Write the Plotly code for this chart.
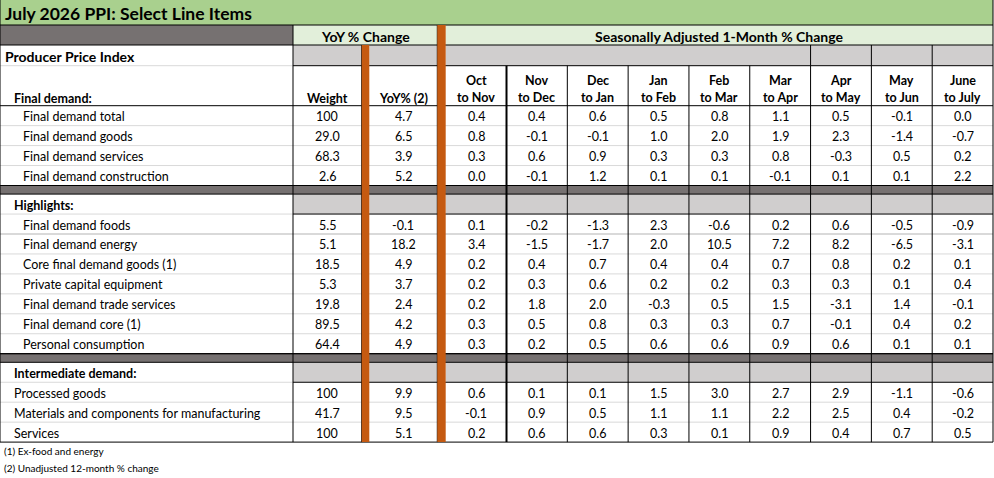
import plotly.graph_objects as go

TITLE = "July 2026 PPI: Select Line Items"
FOOTNOTES = ["(1) Ex-food and energy", "(2) Unadjusted 12-month % change"]

month_from = ["Oct", "Nov", "Dec", "Jan", "Feb", "Mar", "Apr", "May", "June"]
month_to = ["to Nov", "to Dec", "to Jan", "to Feb", "to Mar", "to Apr", "to May", "to Jun", "to July"]

final_labels = [
    "Final demand total",
    "Final demand goods",
    "Final demand services",
    "Final demand construction",
]
final_weight = [100, 29.0, 68.3, 2.6]
final_yoy = [4.7, 6.5, 3.9, 5.2]
final_monthly = [
    [0.4, 0.4, 0.6, 0.5, 0.8, 1.1, 0.5, -0.1, 0.0],
    [0.8, -0.1, -0.1, 1.0, 2.0, 1.9, 2.3, -1.4, -0.7],
    [0.3, 0.6, 0.9, 0.3, 0.3, 0.8, -0.3, 0.5, 0.2],
    [0.0, -0.1, 1.2, 0.1, 0.1, -0.1, 0.1, 0.1, 2.2],
]

highlight_labels = [
    "Final demand foods",
    "Final demand energy",
    "Core final demand goods (1)",
    "Private capital equipment",
    "Final demand trade services",
    "Final demand core (1)",
    "Personal consumption",
]
highlight_weight = [5.5, 5.1, 18.5, 5.3, 19.8, 89.5, 64.4]
highlight_yoy = [-0.1, 18.2, 4.9, 3.7, 2.4, 4.2, 4.9]
highlight_monthly = [
    [0.1, -0.2, -1.3, 2.3, -0.6, 0.2, 0.6, -0.5, -0.9],
    [3.4, -1.5, -1.7, 2.0, 10.5, 7.2, 8.2, -6.5, -3.1],
    [0.2, 0.4, 0.7, 0.4, 0.4, 0.7, 0.8, 0.2, 0.1],
    [0.2, 0.3, 0.6, 0.2, 0.2, 0.3, 0.3, 0.1, 0.4],
    [0.2, 1.8, 2.0, -0.3, 0.5, 1.5, -3.1, 1.4, -0.1],
    [0.3, 0.5, 0.8, 0.3, 0.3, 0.7, -0.1, 0.4, 0.2],
    [0.3, 0.2, 0.5, 0.6, 0.6, 0.9, 0.6, 0.1, 0.1],
]

intermediate_labels = [
    "Processed goods",
    "Materials and components for manufacturing",
    "Services",
]
intermediate_weight = [100, 41.7, 100]
intermediate_yoy = [9.9, 9.5, 5.1]
intermediate_monthly = [
    [0.6, 0.1, 0.1, 1.5, 3.0, 2.7, 2.9, -1.1, -0.6],
    [-0.1, 0.9, 0.5, 1.1, 1.1, 2.2, 2.5, 0.4, -0.2],
    [0.2, 0.6, 0.6, 0.3, 0.1, 0.9, 0.4, 0.7, 0.5],
]

sections = [
    ("Final demand:", final_labels, final_weight, final_yoy, final_monthly, 21),
    ("Highlights:", highlight_labels, highlight_weight, highlight_yoy, highlight_monthly, 21),
    ("Intermediate demand:", intermediate_labels, intermediate_weight, intermediate_yoy, intermediate_monthly, 12),
]

# colours (Excel-ish palette)
GREEN = "#A9D08E"
LIGHT_GREEN = "#E2EFDA"
DARK_GREY = "#767171"
LIGHT_GREY = "#D0CECE"
ROW_LINE = "#D9D9D9"
ORANGE = "#C55A11"
FONT = "Lato"
BODY_SIZE = 12.5
TEXT_DY = 1  # nudge text down a touch to sit like Excel's

# column geometry
RIGHT = 993
LABEL_X = (0, 293)
WEIGHT_X = (293, 361.7)
ORANGE1_X = (361.7, 369.3)
YOY_X = (369.3, 437.3)
ORANGE2_X = (437.3, 445.7)
MONTH_X0 = 445.7
MONTH_W = (RIGHT - MONTH_X0) / len(month_from)
month_edges = [MONTH_X0 + i * MONTH_W for i in range(len(month_from) + 1)]

# row geometry
TITLE_Y = (0, 25)
H1_Y = (25, 45)
H2_Y = (45, 65.7)
H3_Y = (65.7, 105.7)
ROW_H = 19.95
SEP_H = 8.6

fig = go.Figure()
shapes = []
annotations = []


def rect(x0, x1, y0, y1, fill, line_color=None, width=1):
    shapes.append(
        dict(
            type="rect", xref="x", yref="y", x0=x0, x1=x1, y0=y0, y1=y1,
            fillcolor=fill, layer="below",
            line=dict(color=line_color or fill, width=width if line_color else 0),
        )
    )


def line(x0, x1, y0, y1, color="black", width=1):
    shapes.append(
        dict(type="line", xref="x", yref="y", x0=x0, x1=x1, y0=y0, y1=y1,
             line=dict(color=color, width=width), layer="above")
    )


def text(x, y, s, size=BODY_SIZE, bold=False, anchor="center", color="black"):
    annotations.append(
        dict(
            x=x, y=y + TEXT_DY, xref="x", yref="y", text=f"<b>{s}</b>" if bold else s,
            showarrow=False, xanchor=anchor, yanchor="middle",
            font=dict(family=FONT, size=size, color=color),
        )
    )


def fmt(v):
    return "100" if v == 100 else f"{v:.1f}"


def mid(a, b):
    return (a + b) / 2


number_cols = [WEIGHT_X, YOY_X] + [(month_edges[i], month_edges[i + 1]) for i in range(len(month_from))]

# title bar
rect(0, RIGHT, *TITLE_Y, GREEN)
text(3, mid(*TITLE_Y), TITLE, size=17.5, bold=True, anchor="left")

# header row 1
rect(*LABEL_X, *H1_Y, DARK_GREY)
rect(WEIGHT_X[0], YOY_X[1], *H1_Y, LIGHT_GREEN)
rect(MONTH_X0, RIGHT, *H1_Y, LIGHT_GREEN)
text(mid(WEIGHT_X[0], YOY_X[1]), mid(*H1_Y), "YoY % Change", size=14, bold=True)
text(mid(MONTH_X0, RIGHT), mid(*H1_Y), "Seasonally Adjusted 1-Month % Change", size=14, bold=True)

# header row 2
rect(*WEIGHT_X, *H2_Y, LIGHT_GREY)
rect(*YOY_X, *H2_Y, LIGHT_GREY)
rect(MONTH_X0, RIGHT, *H2_Y, LIGHT_GREY)
text(3, mid(*H2_Y), "Producer Price Index", size=14, bold=True, anchor="left")
for e in month_edges[6:9]:
    line(e, e, *H2_Y)

# header row 3
text(12, 97, sections[0][0], bold=True, anchor="left")
text(mid(*WEIGHT_X), 97, "Weight", bold=True)
text(mid(*YOY_X), 97, "YoY% (2)", bold=True)
for i in range(len(month_from)):
    cx = mid(month_edges[i], month_edges[i + 1])
    text(cx, 79, month_from[i], bold=True)
    text(cx, 96, month_to[i], bold=True)

# body
y = H3_Y[1]
for s_idx, (head, labels, weights, yoys, monthly, indent) in enumerate(sections):
    if s_idx > 0:
        rect(0, RIGHT, y, y + SEP_H, DARK_GREY)
        line(0, RIGHT, y, y)
        line(0, RIGHT, y + SEP_H, y + SEP_H)
        y += SEP_H
        for c in number_cols:
            rect(c[0], c[1], y, y + ROW_H, LIGHT_GREY)
        text(12, mid(y, y + ROW_H), head, bold=True, anchor="left")
        line(0, LABEL_X[1], y + ROW_H, y + ROW_H, ROW_LINE)
        line(WEIGHT_X[0], RIGHT, y + ROW_H, y + ROW_H)
        y += ROW_H
    for r, lab in enumerate(labels):
        cy = mid(y, y + ROW_H)
        text(indent, cy, lab, anchor="left")
        text(mid(*WEIGHT_X), cy, fmt(weights[r]))
        text(mid(*YOY_X), cy, fmt(yoys[r]))
        for i, v in enumerate(monthly[r]):
            text(mid(month_edges[i], month_edges[i + 1]), cy, fmt(v))
        if r < len(labels) - 1:
            w = 2 if (s_idx == 1 and r == 0) else 1
            line(0, RIGHT, y + ROW_H, y + ROW_H, ROW_LINE, w)
        y += ROW_H
    line(0, RIGHT, y, y)
table_bottom = y

# main grid lines
line(0, RIGHT, H1_Y[0], H1_Y[0])
line(0, RIGHT, H1_Y[1], H1_Y[1])
line(0, LABEL_X[1], H2_Y[1], H2_Y[1], ROW_LINE)
line(WEIGHT_X[0], RIGHT, H2_Y[1], H2_Y[1])
line(0, RIGHT, H3_Y[1], H3_Y[1])
line(0, 0, 0, table_bottom)
line(RIGHT, RIGHT, 0, table_bottom)
line(LABEL_X[1], LABEL_X[1], H1_Y[0], table_bottom)
for i, e in enumerate(month_edges[1:-1]):
    line(e, e, H3_Y[0], table_bottom, width=2 if i == 0 else 1)
line(WEIGHT_X[1], WEIGHT_X[1], H2_Y[0], table_bottom)
line(YOY_X[1], YOY_X[1], H1_Y[0], table_bottom)

# orange divider columns
shapes.append(dict(type="rect", xref="x", yref="y", x0=ORANGE1_X[0], x1=ORANGE1_X[1],
                   y0=H2_Y[0], y1=table_bottom, fillcolor=ORANGE, line=dict(width=0), layer="above"))
shapes.append(dict(type="rect", xref="x", yref="y", x0=ORANGE2_X[0], x1=ORANGE2_X[1],
                   y0=H1_Y[0], y1=table_bottom, fillcolor=ORANGE, line=dict(width=0), layer="above"))

# footnotes
for k, note in enumerate(FOOTNOTES):
    text(2, table_bottom + 8 + 17 * k, note, size=10, anchor="left")

fig.add_trace(go.Scatter(x=[0, 994], y=[0, 478], mode="markers", marker=dict(opacity=0),
                         hoverinfo="skip", showlegend=False))

fig.update_layout(
    width=994,
    height=478,
    margin=dict(l=0, r=0, t=0, b=0),
    plot_bgcolor="white",
    paper_bgcolor="white",
    xaxis=dict(range=[0, 994], visible=False, fixedrange=True),
    yaxis=dict(range=[478, 0], visible=False, fixedrange=True),
    shapes=shapes,
    annotations=annotations,
    showlegend=False,
)

fig.write_html("out.html", post_script="document.body.style.margin='0';", config={"displayModeBar": False})
